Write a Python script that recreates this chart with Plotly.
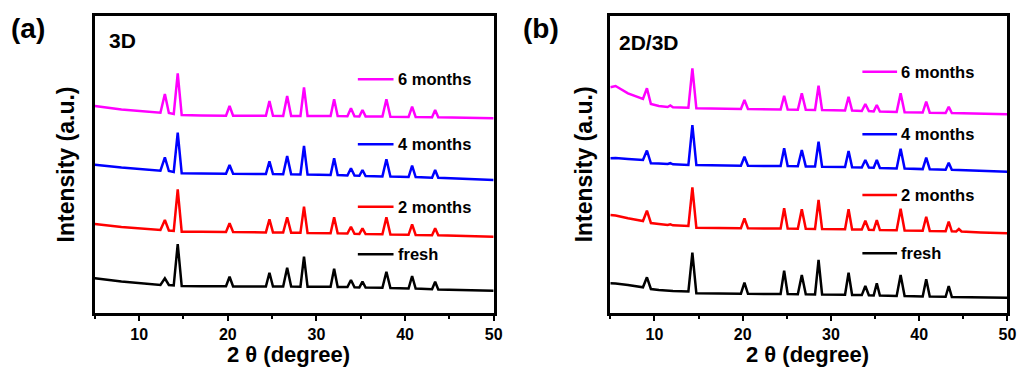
import plotly.graph_objects as go

W, H = 1028, 367

# ---------------- data ----------------
two_theta_a = [5, 8, 12.4, 12.9, 13.35, 13.9, 14.35, 14.8, 17, 19.8, 20.2, 20.6,
               24.3, 24.7, 25.1, 26.25, 26.7, 27.15, 28.2, 28.6, 29.0,
               31.6, 32.0, 32.4, 33.5, 33.9, 34.3, 34.85, 35.2, 35.55,
               37.45, 37.9, 38.35, 40.4, 40.8, 41.2, 43.05, 43.4, 43.75, 46, 50]

a_6months = [207, 203.5, 200.3, 219, 200, 199, 239.7, 198, 197.6, 197.3, 207, 197.3,
             197.2, 212, 197.2, 197.1, 217, 197.1, 197, 225.7, 197,
             197, 213.7, 197, 196.8, 204.7, 196.8, 196.6, 203, 196.6,
             196.4, 213.7, 196.3, 196.1, 206.3, 196, 195.8, 203, 195.7, 195.3, 194.7]
a_4months = [148.3, 145.5, 142.3, 155.7, 142, 141, 180.3, 139.7, 139.5, 139.3, 148, 139.2,
             139, 151.7, 139, 138.8, 157, 138.7, 138.5, 167, 138.4,
             138, 154.7, 137.9, 137.5, 144.7, 137.4, 137.2, 143, 137,
             136.6, 153.7, 136.5, 136, 147.3, 135.9, 135.3, 143, 135.2, 134.5, 133]
a_2months = [89, 86, 83, 93, 82.5, 82, 123.7, 81.3, 81.2, 81, 89.7, 81,
             80.6, 93.7, 80.6, 80.4, 95.7, 80.3, 80.2, 106.3, 80.1,
             79.8, 95.7, 79.7, 79.4, 86.3, 79.3, 79.1, 84.7, 79,
             78.7, 95.7, 78.5, 78.2, 88.7, 78.1, 77.8, 84.7, 77.7, 77.2, 76.3]
a_fresh = [34.7, 31.5, 28, 34.7, 28, 27.5, 69, 27, 26.8, 26.7, 36.3, 26.6,
           26.5, 40.3, 26.5, 26.4, 45.3, 26.4, 26.3, 56.3, 26.3,
           26.2, 44.3, 26.1, 25.9, 33, 25.8, 25.6, 31.3, 25.5,
           25.2, 41.3, 25, 24.5, 37, 24.4, 23.8, 31.3, 23.6, 23, 22.3]

two_theta_b = [5, 5.6, 7, 8.7, 9.15, 9.6, 10.5, 11.5, 11.8, 12.1, 13.85, 14.3, 14.75, 17,
               19.8, 20.2, 20.6, 24.3, 24.7, 25.1, 26.25, 26.7, 27.15,
               28.2, 28.6, 29.0, 31.6, 32.0, 32.4, 33.5, 33.9, 34.3,
               34.85, 35.2, 35.55, 37.45, 37.9, 38.35, 40.4, 40.8, 41.2,
               43.0, 43.35, 43.7, 44.2, 44.5, 44.8, 47, 50]

b_6months = [225.7, 227, 219.7, 214, 224.7, 209, 207, 206, 207.5, 205.7, 205.3, 244.7, 204.7, 204.2,
             204, 213, 204, 203.5, 217.3, 203.5, 203.3, 219.7, 203.2,
             203, 227.3, 202.9, 202.5, 216.3, 202.4, 202, 209, 201.9,
             201.6, 208, 201.4, 201, 219.7, 200.8, 200.4, 211.3, 200.3,
             200, 206.3, 199.9, 199.8, 199.8, 199.7, 199.3, 198.7]
b_4months = [154.7, 155, 154, 153, 162.5, 149.7, 149.5, 149, 149.8, 148.7, 148, 188, 148, 147.5,
             147.3, 156.3, 147.2, 147, 164.7, 146.9, 146.7, 163, 146.6,
             146.4, 171.3, 146.3, 145.9, 162, 145.8, 145.5, 153, 145.4,
             145.2, 153, 145, 144.6, 164.3, 144.4, 143.9, 155.3, 143.8,
             143.3, 150.3, 143.2, 143, 143, 142.9, 142, 141.3]
b_2months = [98, 97.5, 94.7, 92, 102.3, 90, 89, 88, 88.7, 87.7, 87, 125.7, 85.3, 85,
             84.8, 94.7, 84.7, 84.5, 104.7, 84.4, 84.3, 103.7, 84.2,
             84, 113, 83.9, 83.7, 103.7, 83.6, 83.4, 92.3, 83.3,
             83.1, 93, 83, 82.7, 104.3, 82.5, 82.2, 96.3, 82.1,
             81.8, 91.3, 81.7, 81.6, 84.0, 81.5, 80.5, 79.7]
b_fresh = [29.7, 29.5, 28, 25.7, 35.7, 24, 23, 22.3, 22.3, 22, 21.5, 60.3, 19.7, 19.5,
           19.3, 30.3, 19.2, 19, 42.3, 19, 18.8, 38, 18.7,
           18.6, 53, 18.5, 18.2, 40.3, 18.1, 17.9, 27, 17.8,
           17.6, 29.7, 17.4, 17.1, 38, 16.9, 16.6, 33.7, 16.5,
           16.2, 27, 16.1, 16, 16, 15.9, 15.6, 15.3]

series_names = ["6 months", "4 months", "2 months", "fresh"]
series_colors = ["#FF00FF", "#0000FF", "#FF0000", "#000000"]
panel_labels = ["(a)", "(b)"]
panel_titles = ["3D", "2D/3D"]
x_title = "2 θ (degree)"
y_title = "Intensity (a.u.)"
x_ticks = [10, 20, 30, 40, 50]

# ---------------- figure ----------------
FONT = "Liberation Sans, Arial, sans-serif"

def fx(p):
    return p / W

def fy(p):
    return 1 - p / H

fig = go.Figure()

panels = [
    ("x", "y", two_theta_a, [a_6months, a_4months, a_2months, a_fresh]),
    ("x2", "y2", two_theta_b, [b_6months, b_4months, b_2months, b_fresh]),
]
for xa, ya, xs, ys_list in panels:
    for name, color, ys in zip(series_names, series_colors, ys_list):
        fig.add_trace(go.Scatter(x=xs, y=ys, mode="lines", name=name,
                                 line=dict(color=color, width=2.5),
                                 xaxis=xa, yaxis=ya, showlegend=False))

ydom = [fy(313), fy(15.7)]
axis_common = dict(showline=True, linewidth=2.5, linecolor="black", mirror=True,
                   showgrid=False, zeroline=False)
xcommon = dict(axis_common, range=[5, 50], tickvals=x_ticks, ticks="outside",
               ticklen=5, tickwidth=2, tickcolor="black",
               minor=dict(tickvals=[5, 15, 25, 35, 45], ticks="outside", ticklen=3,
                          tickwidth=2, tickcolor="black"),
               tickfont=dict(family=FONT, size=16, color="black", weight="bold"))
ycommon = dict(axis_common, range=[0, 297.3], showticklabels=False, ticks="")

fig.update_layout(
    width=W, height=H,
    margin=dict(l=0, r=0, t=0, b=0),
    paper_bgcolor="white", plot_bgcolor="white",
    xaxis=dict(xcommon, domain=[fx(95.7), fx(498)], anchor="y"),
    yaxis=dict(ycommon, domain=ydom, anchor="x"),
    xaxis2=dict(xcommon, domain=[fx(615.7), fx(1016.3)], anchor="y2"),
    yaxis2=dict(ycommon, domain=ydom, anchor="x2"),
)

annotations = []
shapes = []

def text(x, y, s, size, xanchor="left", angle=0):
    annotations.append(dict(x=fx(x), y=fy(y), xref="paper", yref="paper", text=s,
                            showarrow=False, xanchor=xanchor, yanchor="middle",
                            textangle=angle,
                            font=dict(family=FONT, size=size, color="black", weight="bold")))

# panel letters and sample titles
text(9, 28, panel_labels[0], 28)
text(526, 28, panel_labels[1], 28)
text(108, 41, panel_titles[0], 21)
text(622, 43, panel_titles[1], 21)

# axis titles
text(291, 354.5, x_title, 22, xanchor="center")
text(815, 354.5, x_title, 22, xanchor="center")
text(66.5, 164.5, y_title, 23, xanchor="center", angle=-90)
text(589, 164.5, y_title, 23, xanchor="center", angle=-90)

# in-plot legends
leg_a = [79.3, 144.3, 206.7, 254.3]
leg_b = [71.7, 134.3, 195, 253.3]
for ys, (l0, l1, tx) in [(leg_a, (361, 397, 400)), (leg_b, (870, 905, 907))]:
    for yv, name, color in zip(ys, series_names, series_colors):
        shapes.append(dict(type="line", xref="paper", yref="paper",
                           x0=fx(l0), x1=fx(l1), y0=fy(yv), y1=fy(yv),
                           line=dict(color=color, width=2.5)))
        text(tx, yv, name, 16.5)

fig.update_layout(annotations=annotations, shapes=shapes)
fig.write_html("out.html")
